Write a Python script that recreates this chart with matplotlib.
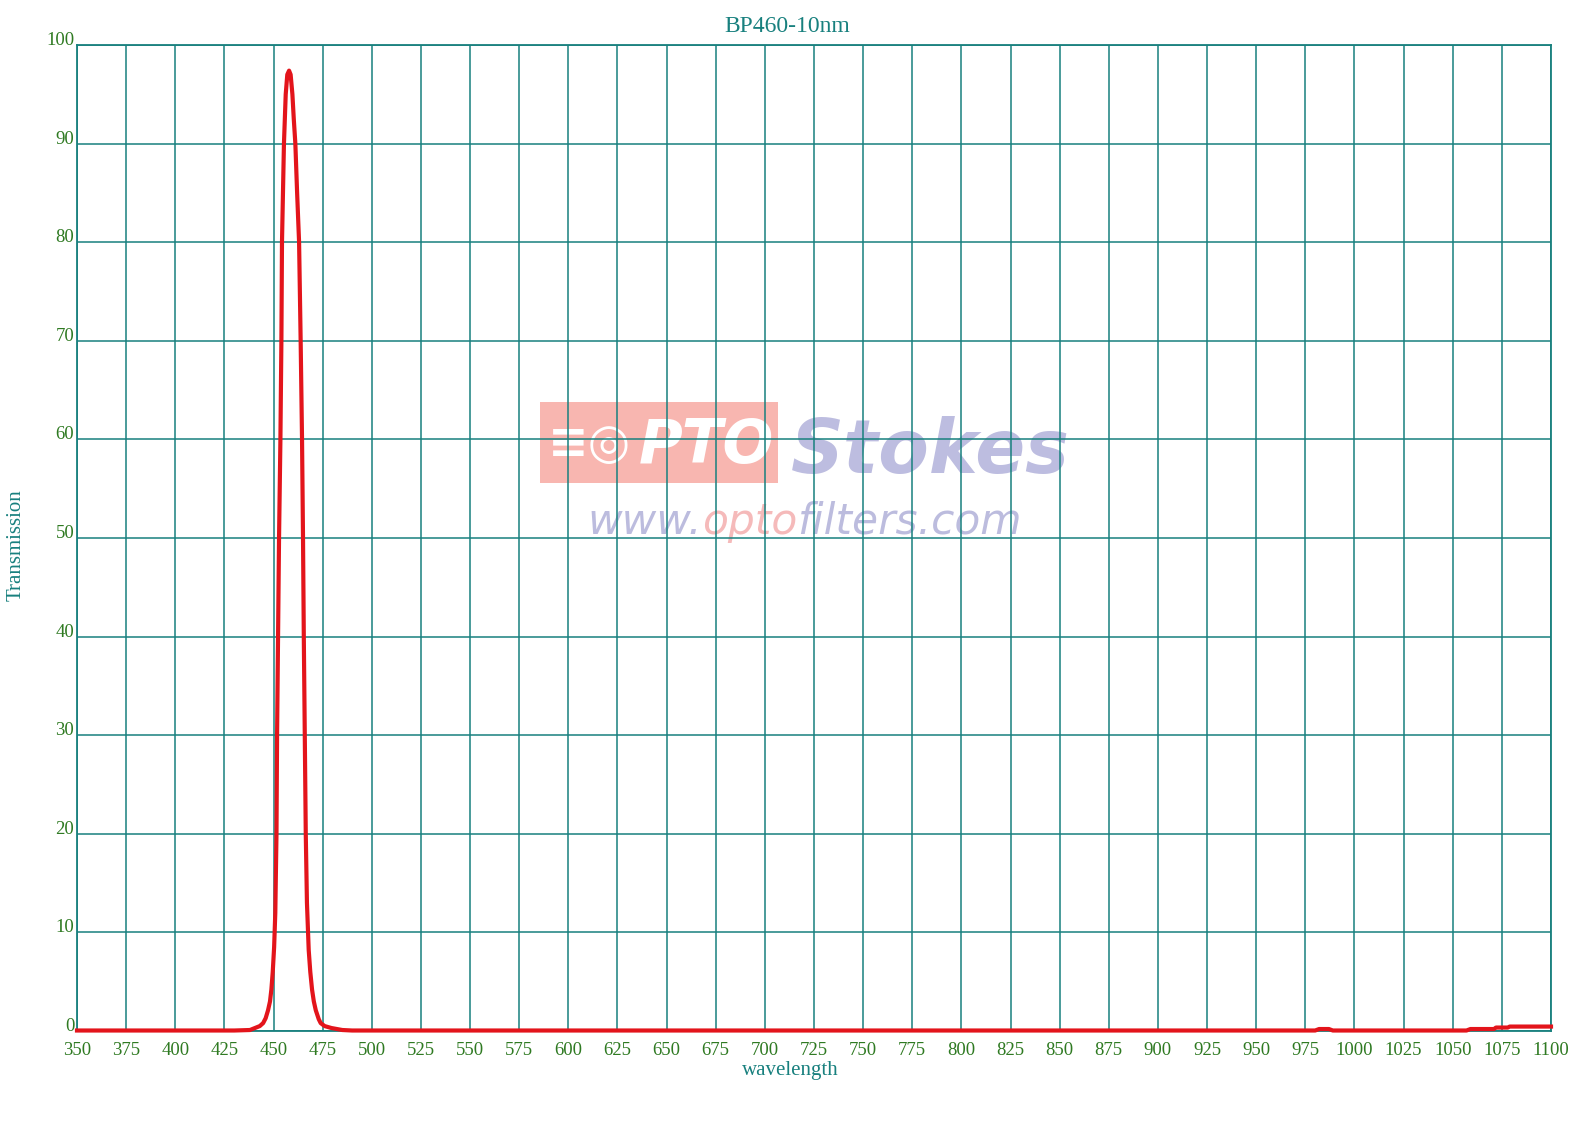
import matplotlib
matplotlib.use("Agg")
import matplotlib.pyplot as plt
from matplotlib.patches import Rectangle

wavelength = [350, 430, 438, 440.5, 443, 444.7, 446, 447.2, 448.2, 448.9, 449.6, 450.3,
              450.9, 451.5, 451.8, 452.3, 452.8, 453.5, 454.0, 454.3, 455.3, 456.2,
              457.0, 457.9, 458.7, 459.6, 460.3, 461.1, 462.0, 463.0, 463.8, 464.5,
              465.0, 465.4, 465.9, 466.4, 467.0, 467.9, 468.7, 469.6, 470.5, 471.5,
              473, 474, 476, 479.5, 485, 490, 980, 982, 987, 989, 1057, 1059, 1071,
              1072, 1078, 1079, 1100]
transmission = [0.05, 0.05, 0.1, 0.3, 0.5, 0.8, 1.3, 2.1, 3.0, 4.2, 6.0, 8.5,
                12, 20, 30, 40, 50, 60, 70, 80, 90, 95,
                97, 97.4, 97, 95, 92.5, 90, 85, 80, 70, 60,
                50, 40, 30, 20, 13, 8.2, 6.0, 4.2, 3.0, 2.1,
                1.2, 0.8, 0.5, 0.3, 0.1, 0.05, 0.05, 0.2, 0.2, 0.05, 0.05, 0.2, 0.2,
                0.35, 0.35, 0.45, 0.45]

x_ticks = list(range(350, 1101, 25))
y_ticks = list(range(0, 101, 10))
title = "BP460-10nm"

W, H = 1582, 1127
teal = "#18807e"
green = "#2f7a22"

plt.rcParams['font.family'] = ['Liberation Serif', 'DejaVu Serif']
fig = plt.figure(figsize=(W / 100, H / 100), dpi=100)
ax = fig.add_axes([77 / W, 1 - 1031 / H, (1551 - 77) / W, (1031 - 45) / H])

ax.set_xlim(350, 1100)
ax.set_ylim(0, 100)
ax.set_xticks(x_ticks)
ax.set_yticks(y_ticks)
ax.grid(True, color=teal, linewidth=1.1)
for s in ax.spines.values():
    s.set_color(teal)
    s.set_linewidth(1.3)
ax.tick_params(length=0, labelsize=13.5, labelcolor=green)
ax.tick_params(axis='x', pad=8)
ax.tick_params(axis='y', pad=2)
for lab in ax.get_yticklabels():
    lab.set_va('baseline')

ax.plot(wavelength, transmission, color="#e3141b", linewidth=3, zorder=5,
        clip_on=False, solid_joinstyle='round')

fig.text(787 / W, 1 - 26 / H, title, ha='center', va='center', fontsize=17, color=teal)
fig.text(790 / W, 1 - 1071 / H, "wavelength", ha='center', va='center', fontsize=15, color=teal)
fig.text(16 / W, 1 - 545 / H, "Transmission", ha='center', va='center', fontsize=15,
         color=teal, rotation=90)

# watermark (behind grid)
tf = fig.transFigure
ax.add_patch(Rectangle((540 / W, 1 - 483 / H), (778 - 540) / W, (483 - 402) / H,
                       transform=tf, facecolor="#f8b6b0", edgecolor='none', zorder=0.4))
ax.text(548 / W, 1 - 444 / H, "\u2261\u25CE", transform=tf, ha='left', va='center',
        fontsize=35, fontweight='bold', color='white', family=['DejaVu Sans'], zorder=0.5)
ax.text(706 / W, 1 - 446 / H, "PTO", transform=tf, ha='center', va='center',
        fontsize=43, fontweight='bold', fontstyle='italic', color='white',
        family=['DejaVu Sans'], zorder=0.5)
ax.text(930 / W, 1 - 452 / H, "Stokes", transform=tf, ha='center', va='center',
        fontsize=53, fontweight='bold', fontstyle='italic', color="#bdbde0",
        family=['DejaVu Sans'], zorder=0.5)

fig.canvas.draw()
renderer = fig.canvas.get_renderer()
x_px = 587
parts = [("www.", "#bcbcde"), ("opto", "#f5baba"), ("filters.com", "#bcbcde")]
for txt, col in parts:
    t = ax.text(x_px / W, 1 - 522 / H, txt, transform=tf, ha='left', va='center',
                fontsize=30.5, fontstyle='italic', color=col, family=['DejaVu Sans'],
                zorder=0.5)
    bb = t.get_window_extent(renderer)
    x_px += bb.width

fig.savefig("out.png", dpi=100, facecolor='white')
